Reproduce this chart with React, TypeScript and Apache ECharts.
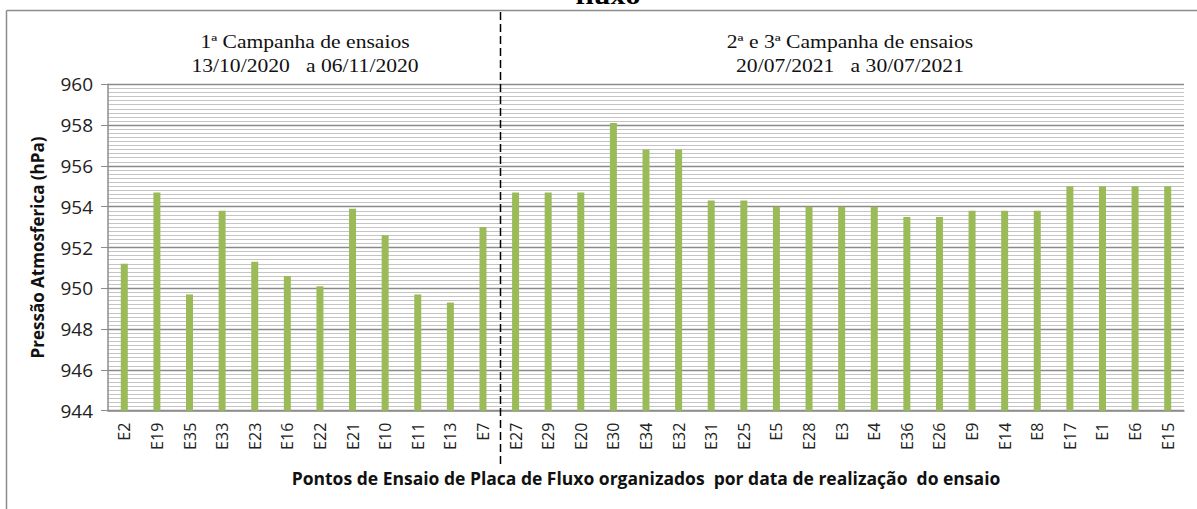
import React, { useEffect, useRef } from "react";
import * as echarts from "echarts";

const categories = [
  "E2", "E19", "E35", "E33", "E23", "E16", "E22", "E21", "E10", "E11", "E13", "E7",
  "E27", "E29", "E20", "E30", "E34", "E32", "E31", "E25", "E5", "E28", "E3", "E4",
  "E36", "E26", "E9", "E14", "E8", "E17", "E1", "E6", "E15",
];
const pressure = [
  951.2, 954.7, 949.7, 953.8, 951.3, 950.6, 950.1, 953.9, 952.6, 949.7, 949.3, 953.0,
  954.7, 954.7, 954.7, 958.1, 956.8, 956.8, 954.3, 954.3, 954.0, 954.0, 954.0, 954.0,
  953.5, 953.5, 953.8, 953.8, 953.8, 955.0, 955.0, 955.0, 955.0,
];
const yMin = 944;
const yMax = 960;
const yStep = 2;
const campaign1 = ["1ª Campanha de ensaios", "13/10/2020   a 06/11/2020"];
const campaign2 = ["2ª e 3ª Campanha de ensaios", "20/07/2021   a 30/07/2021"];
const yAxisTitle = "Pressão Atmosferica (hPa)";
const xAxisTitle = "Pontos de Ensaio de Placa de Fluxo organizados  por data de realização  do ensaio";
const topTitle = "fluxo";

export default function App() {
  const ref = useRef<HTMLDivElement>(null);
  useEffect(() => {
    document.body.style.margin = "0";
    if (!ref.current) return;
    const chart = echarts.init(ref.current, null, { renderer: "svg" });
    const serif = "'Liberation Serif', 'Times New Roman', serif";
    const sans = "'Open Sans', 'Noto Sans', sans-serif";
    const headerText = (txt: string, x: number, y: number) => ({
      type: "text",
      x,
      y,
      scaleX: 1.2,
      style: {
        text: txt,
        font: `18px ${serif}`,
        fill: "#111",
        align: "center",
        verticalAlign: "middle",
      },
    });
    chart.setOption({
      animation: false,
      grid: { left: 108, right: 13, top: 84.3, bottom: 98.3, containLabel: false },
      xAxis: {
        type: "category",
        data: categories,
        name: xAxisTitle,
        nameLocation: "middle",
        nameGap: 58,
        nameTextStyle: { fontFamily: sans, fontWeight: "bold", fontSize: 17.5, color: "#111" },
        axisLine: { show: true, lineStyle: { color: "#8c8c8c", width: 1.5 } },
        axisTick: { show: false },
        axisLabel: {
          rotate: 90,
          margin: 12,
          interval: 0,
          fontFamily: sans,
          fontSize: 16,
          color: "#222",
        },
      },
      yAxis: {
        type: "value",
        min: yMin,
        max: yMax,
        interval: yStep,
        z: 0,
        name: yAxisTitle,
        nameLocation: "middle",
        nameRotate: 90,
        nameGap: 62,
        nameTextStyle: { fontFamily: sans, fontWeight: "bold", fontSize: 17, color: "#111" },
        axisLine: { show: true, lineStyle: { color: "#8c8c8c", width: 1.5 } },
        axisTick: { show: true, length: 7, lineStyle: { color: "#8c8c8c" } },
        axisLabel: { fontFamily: sans, fontSize: 19, color: "#222", margin: 15 },
        splitLine: { show: true, lineStyle: { color: "#8a8a8a", width: 1.3 } },
        minorTick: { show: false, splitNumber: 10 },
        minorSplitLine: { show: true, lineStyle: { color: "#c4c4c4", width: 1 } },
      },
      series: [
        {
          type: "bar",
          data: pressure,
          barWidth: 7,
          zlevel: 1,
          z: 10,
          itemStyle: { color: "#9BBB59" },
        },
      ],
      graphic: [
        {
          type: "line",
          shape: { x1: 6.5, y1: 10.5, x2: 1197, y2: 10.5 },
          style: { stroke: "#8c8c8c", lineWidth: 1.5 },
        },
        {
          type: "line",
          shape: { x1: 6.5, y1: 10.5, x2: 6.5, y2: 509 },
          style: { stroke: "#8c8c8c", lineWidth: 1.5 },
        },
        {
          type: "line",
          zlevel: 2,
          shape: { x1: 500.5, y1: 12, x2: 500.5, y2: 465 },
          style: { stroke: "#000", lineWidth: 1.5, lineDash: [8, 4] },
        },
        {
          type: "text",
          x: 608,
          y: -5,
          scaleX: 1.15,
          style: {
            text: topTitle,
            font: `bold 26px ${serif}`,
            fill: "#000",
            align: "center",
            verticalAlign: "middle",
          },
        },
        headerText(campaign1[0], 305, 42),
        headerText(campaign1[1], 305, 66),
        headerText(campaign2[0], 850, 42),
        headerText(campaign2[1], 850, 66),
      ],
    });
    return () => chart.dispose();
  }, []);
  return <div ref={ref} style={{ width: 1197, height: 509, background: "#fff" }} />;
}
